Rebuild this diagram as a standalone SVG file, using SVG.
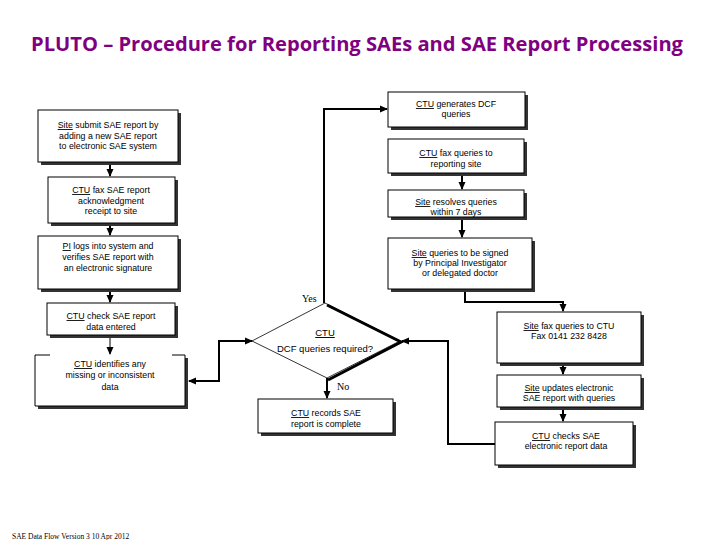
<svg xmlns="http://www.w3.org/2000/svg" width="720" height="540" viewBox="0 0 720 540">
<style>
.sh{fill:#333}
.bx{fill:#fff;stroke:#000;stroke-width:1}
.t{font-family:"Liberation Sans",Arial,sans-serif;font-size:8.8px;text-anchor:middle;fill:#000}
.u{text-decoration:underline}
.c{fill:none;stroke:#000;stroke-width:2}
.ct{fill:none;stroke:#000;stroke-width:1}
.lbl{font-family:"Liberation Serif","Times New Roman",serif;font-size:10px;fill:#000}
</style>
<defs>
<marker id="ah" markerWidth="8" markerHeight="8" refX="7" refY="4" orient="auto-start-reverse" markerUnits="userSpaceOnUse">
<path d="M0,0.5 L8,4 L0,7.5 Z" fill="#000"/>
</marker>
</defs>
<rect width="720" height="540" fill="#fff"/>
<text x="357" y="51" font-family="'Open Sans','Noto Sans',sans-serif" font-weight="bold" font-size="20" fill="#800080" text-anchor="middle" textLength="652" lengthAdjust="spacingAndGlyphs">PLUTO – Procedure for Reporting SAEs and SAE Report Processing</text>

<g id="connectors">
<path class="c" d="M110,162 V176" marker-end="url(#ah)"/>
<path class="c" d="M110,223 V235" marker-end="url(#ah)"/>
<path class="c" d="M110,289 V302" marker-end="url(#ah)"/>
<path class="ct" d="M110,335 V354" marker-end="url(#ah)"/>
<path class="c" d="M462,173 V189" marker-end="url(#ah)"/>
<path class="c" d="M462,217 V237" marker-end="url(#ah)"/>
<path class="c" d="M324,303 V109 H387" marker-end="url(#ah)"/>
<path class="c" d="M465,290 V302 H563 V311" marker-end="url(#ah)"/>
<path class="c" d="M563,366 V374" marker-end="url(#ah)"/>
<path class="c" d="M563,410 V421" marker-end="url(#ah)"/>
<path class="c" d="M495,444 H448 V341 H402" marker-end="url(#ah)"/>
<path class="c" d="M252,341 H219 V381 H189" marker-start="url(#ah)" marker-end="url(#ah)"/>
<path class="c" d="M327,378 V398" marker-end="url(#ah)"/>
<text class="lbl" x="302" y="302">Yes</text>
<text class="lbl" x="337" y="390">No</text>
</g>

<g id="n1">
<rect class="sh" x="41" y="113" width="140" height="52"/>
<rect class="bx" x="38" y="110" width="140" height="52"/>
<text class="t" x="108" y="128"><tspan class="u">Site</tspan> submit SAE report by</text>
<text class="t" x="108" y="139">adding a new SAE report</text>
<text class="t" x="108" y="149">to electronic SAE system</text>
</g>
<g id="n2">
<rect class="sh" x="51" y="180" width="127" height="46"/>
<rect class="bx" x="48" y="177" width="127" height="46"/>
<text class="t" x="111" y="193"><tspan class="u">CTU</tspan>  fax SAE report</text>
<text class="t" x="111" y="204">acknowledgment</text>
<text class="t" x="111" y="214">receipt to site</text>
</g>
<g id="n3">
<rect class="sh" x="41" y="239" width="140" height="53"/>
<rect class="bx" x="38" y="236" width="140" height="53"/>
<text class="t" x="108" y="249"><tspan class="u">PI</tspan> logs into system and</text>
<text class="t" x="108" y="260">verifies SAE report with</text>
<text class="t" x="108" y="271">an electronic signature</text>
</g>
<g id="n4">
<rect class="sh" x="50" y="306" width="128" height="32"/>
<rect class="bx" x="47" y="303" width="128" height="32"/>
<text class="t" x="111" y="319"><tspan class="u">CTU</tspan> check SAE report</text>
<text class="t" x="111" y="330">data entered</text>
</g>
<g id="n5">
<rect class="sh" x="38" y="358" width="150" height="51"/>
<rect x="35" y="355" width="150" height="51" fill="#fff" stroke="none"/>
<path d="M50,355 H35 V406 H185 V355 H172" fill="none" stroke="#000" stroke-width="1"/>
<text class="t" x="110" y="367"><tspan class="u">CTU</tspan> identifies any</text>
<text class="t" x="110" y="378">missing or inconsistent</text>
<text class="t" x="110" y="390">data</text>
</g>
<g id="r1">
<rect class="sh" x="391" y="95" width="137" height="35"/>
<rect class="bx" x="388" y="92" width="137" height="35"/>
<text class="t" x="456" y="107"><tspan class="u">CTU</tspan> generates DCF</text>
<text class="t" x="456" y="117">queries</text>
</g>
<g id="r2">
<rect class="sh" x="391" y="142" width="136" height="34"/>
<rect class="bx" x="388" y="139" width="136" height="34"/>
<text class="t" x="456" y="156"><tspan class="u">CTU</tspan> fax queries to</text>
<text class="t" x="456" y="167">reporting site</text>
</g>
<g id="r3">
<rect class="sh" x="391" y="193" width="136" height="27"/>
<rect class="bx" x="388" y="190" width="136" height="27"/>
<text class="t" x="456" y="205"><tspan class="u">Site</tspan> resolves queries</text>
<text class="t" x="456" y="215">within 7 days</text>
</g>
<g id="r4">
<rect class="sh" x="391" y="241" width="144" height="51"/>
<rect class="bx" x="388" y="238" width="144" height="51"/>
<text class="t" x="460" y="256"><tspan class="u">Site</tspan> queries to be signed</text>
<text class="t" x="460" y="266">by Principal Investigator</text>
<text class="t" x="460" y="276">or delegated doctor</text>
</g>
<g id="decision">
<path d="M325,303 L400,341 L327,378 L252,341 Z" fill="#fff" stroke="#000" stroke-width="0.8"/>
<path d="M327,305 L401,342 L328,380" fill="none" stroke="#000" stroke-width="3"/>
<text x="325" y="336" font-family="'Liberation Sans',Arial,sans-serif" font-size="9.5" text-anchor="middle"><tspan class="u">CTU</tspan></text>
<text x="325" y="352" font-family="'Liberation Sans',Arial,sans-serif" font-size="9.5" text-anchor="middle">DCF queries required?</text>
</g>
<g id="records">
<rect class="sh" x="261" y="402" width="135" height="34"/>
<rect class="bx" x="258" y="399" width="135" height="34"/>
<text class="t" x="326" y="416"><tspan class="u">CTU</tspan> records SAE</text>
<text class="t" x="326" y="427">report is complete</text>
</g>
<g id="sitefax">
<rect class="sh" x="500" y="315" width="144" height="51"/>
<rect class="bx" x="497" y="312" width="144" height="51"/>
<text class="t" x="569" y="329"><tspan class="u">Site</tspan> fax queries to CTU</text>
<text class="t" x="569" y="339">Fax 0141 232 8428</text>
</g>
<g id="siteupdates">
<rect class="sh" x="500" y="378" width="144" height="32"/>
<rect class="bx" x="497" y="375" width="144" height="32"/>
<text class="t" x="569" y="391"><tspan class="u">Site</tspan> updates electronic</text>
<text class="t" x="569" y="401">SAE report with queries</text>
</g>
<g id="ctuchecks">
<rect class="sh" x="498" y="425" width="138" height="43"/>
<rect class="bx" x="495" y="422" width="138" height="43"/>
<text class="t" x="566" y="439"><tspan class="u">CTU</tspan> checks SAE</text>
<text class="t" x="566" y="449">electronic report data</text>
</g>
<text x="12" y="539" font-family="'Liberation Serif','Times New Roman',serif" font-size="7.5" fill="#000">SAE Data Flow Version 3 10 Apr 2012</text>
</svg>
